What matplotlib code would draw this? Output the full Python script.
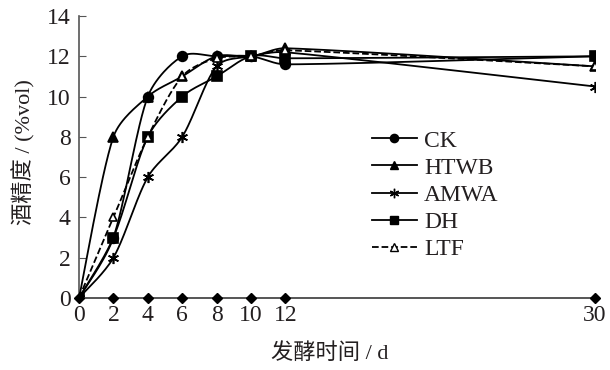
import numpy as np
import matplotlib
matplotlib.use('Agg')
import matplotlib.pyplot as plt

plt.rcParams['font.family'] = ['Liberation Serif', 'Noto Sans CJK SC']

days = [0, 2, 4, 6, 8, 10, 12, 30]
ck = [0, 3, 10, 12, 12, 12, 11.6, 12]
htwb = [0, 8, 10, 11, 12, 12, 12.4, 11.5]
amwa = [0, 2, 6, 8, 11.5, 12, 12.2, 10.5]
dh = [0, 3, 8, 10, 11, 12, 11.9, 12]
ltf = [0, 4, 8, 11, 11.9, 12, 12.3, 11.5]
base = [0, 0, 0, 0, 0, 0, 0, 0]

xticks = [0, 2, 4, 6, 8, 10, 12, 30]
yticks = [0, 2, 4, 6, 8, 10, 12, 14]


def smooth(x, y, n=30):
    # parametric Catmull-Rom through the points, in axis-scaled units
    x = np.asarray(x, float)
    y = np.asarray(y, float)
    sx, sy = 518 / 30.0, 282 / 14.0
    P = np.column_stack([x * sx, y * sy])
    P = np.vstack([P[0], P, P[-1]])
    out = []
    for i in range(1, len(P) - 2):
        p0, p1, p2, p3 = P[i - 1], P[i], P[i + 1], P[i + 2]
        d = np.linalg.norm(p2 - p1)
        m1 = (p2 - p0) / 2.0
        m2 = (p3 - p1) / 2.0
        # limit tangent length by segment length to avoid overshoot
        for m in (m1, m2):
            l = np.linalg.norm(m)
            if l > d and l > 0:
                m *= d / l
        t = np.linspace(0, 1, n)[:, None]
        h00 = 2 * t**3 - 3 * t**2 + 1
        h10 = t**3 - 2 * t**2 + t
        h01 = -2 * t**3 + 3 * t**2
        h11 = t**3 - t**2
        seg = h00 * p1 + h10 * m1 + h01 * p2 + h11 * m2
        out.append(seg if i == 1 else seg[1:])
    S = np.vstack(out)
    return S[:, 0] / sx, S[:, 1] / sy


fig = plt.figure(figsize=(6.1, 3.7), dpi=100)
ax = fig.add_axes([79 / 610, 1 - 298 / 370, (595 - 79) / 610, (298 - 16) / 370])

c = '#231f20'
series = [
    ('CK', ck, 'o', 7, '-', 'black'),
    ('HTWB', htwb, '^', 7, '-', 'black'),
    ('AMWA', amwa, (6, 2, 0), 8, '-', 'black'),
    ('DH', dh, 's', 7, '-', 'black'),
    ('LTF', ltf, '^', 6, '--', 'white'),
]
for name, vals, mk, ms, ls, fc in series:
    sx, sy = smooth(days, vals)
    ax.plot(sx, sy, color='black', lw=1.3, ls=ls, zorder=3)
    ax.plot(days, vals, ls='none', marker=mk, ms=ms, mfc=fc, mec='black',
            mew=1.2, zorder=4)
    ax.plot([], [], color='black', lw=1.3, ls=ls, marker=mk, ms=ms * 0.85,
            mfc=fc, mec='black', mew=1.0, label=name)

ax.plot(days, base, color='#555555', lw=1.2, marker='D', ms=5, mfc='black',
        mec='black', zorder=5, clip_on=False)

ax.set_xlim(0, 30)
ax.set_ylim(0, 14)
ax.set_xticks(xticks)
ax.set_yticks(yticks)
ax.tick_params(axis='x', length=0, labelsize=17, labelcolor=c, pad=5)
ax.tick_params(axis='y', direction='in', length=5, labelsize=17, labelcolor=c,
               color='#555555', pad=6)
for s in ['top', 'right']:
    ax.spines[s].set_visible(False)
for s in ['left', 'bottom']:
    ax.spines[s].set_color('#555555')
    ax.spines[s].set_linewidth(1.2)

fig.text(330 / 610, 1 - 354 / 370, '发酵时间 / d', ha='center', va='center',
         fontsize=16, color=c)
fig.text(24 / 610, 1 - 152 / 370, '酒精度 / (%vol)', ha='center', va='center',
         rotation=90, fontsize=16, color=c)

leg = ax.legend(loc='upper left', frameon=False, fontsize=17,
                handlelength=1.9, handletextpad=0.3, labelspacing=0.24,
                borderaxespad=0, borderpad=0)
for t in leg.get_texts():
    t.set_color(c)
leg.set_bbox_to_anchor((372 / 610, 1 - 130 / 370), transform=fig.transFigure)

fig.savefig('out.png', dpi=100)
